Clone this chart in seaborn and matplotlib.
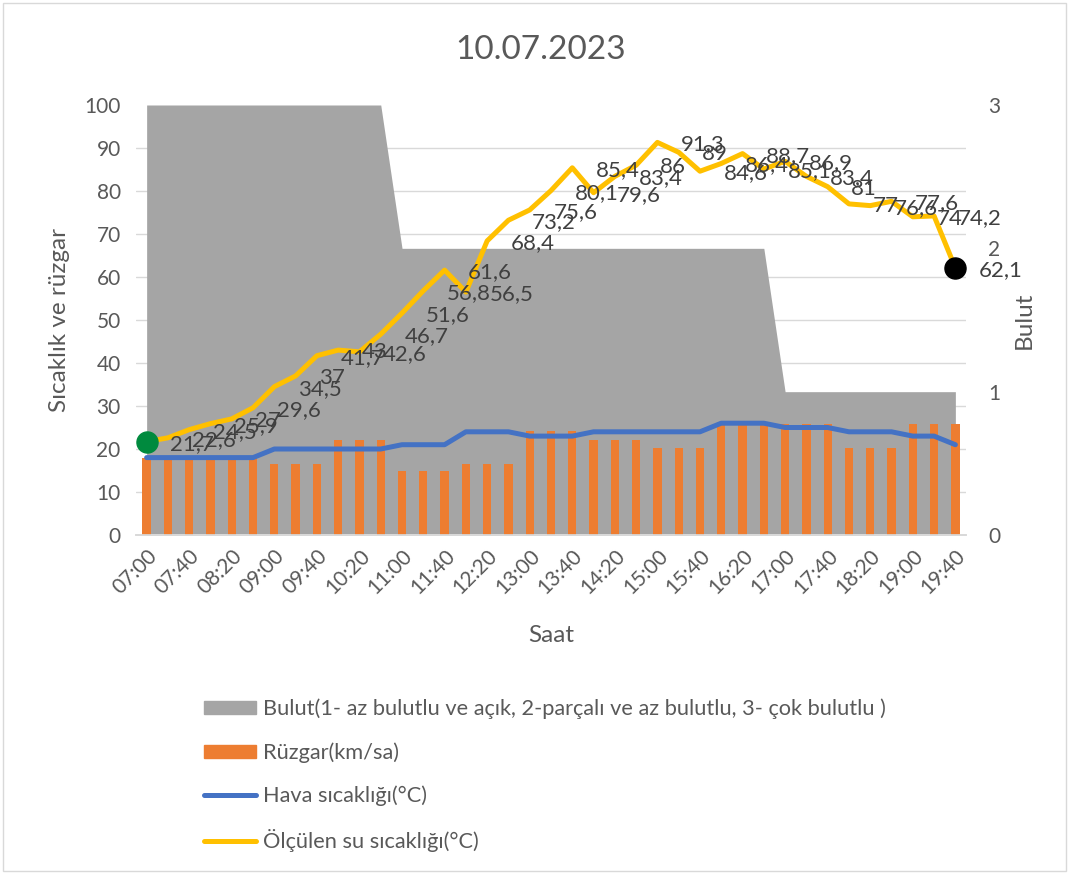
import numpy as np
import pandas as pd
import matplotlib.pyplot as plt
import seaborn as sns
from matplotlib.patches import Patch, Rectangle
from matplotlib.lines import Line2D
from matplotlib.ticker import MultipleLocator

sns.set_theme(style="white")
plt.rcParams["font.family"] = ["Lato", "DejaVu Sans"]

# data (20 min steps)
times = ["07:00", "07:20", "07:40", "08:00", "08:20", "08:40", "09:00", "09:20", "09:40", "10:00",
         "10:20", "10:40", "11:00", "11:20", "11:40", "12:00", "12:20", "12:40", "13:00", "13:20",
         "13:40", "14:00", "14:20", "14:40", "15:00", "15:20", "15:40", "16:00", "16:20", "16:40",
         "17:00", "17:20", "17:40", "18:00", "18:20", "18:40", "19:00", "19:20", "19:40"]
water = [21.7, 22.6, 24.5, 25.9, 27, 29.6, 34.5, 37, 41.7, 43, 42.6, 46.7, 51.6, 56.8, 61.6, 56.5,
         68.4, 73.2, 75.6, 80.1, 85.4, 79.6, 83.4, 86, 91.3, 89, 84.6, 86.4, 88.7, 85.1, 86.9, 83.4,
         81, 77, 76.6, 77.6, 74, 74.2, 62.1]
air = [18, 18, 18, 18, 18, 18, 20, 20, 20, 20, 20, 20, 21, 21, 21, 24, 24, 24, 23, 23, 23, 24, 24,
       24, 24, 24, 24, 26, 26, 26, 25, 25, 25, 24, 24, 24, 23, 23, 21]
wind = [18, 18, 18, 18, 18, 18, 16.6, 16.6, 16.6, 22, 22, 22, 14.8, 14.8, 14.8, 16.6, 16.6, 16.6,
        24.1, 24.1, 24.1, 22, 22, 22, 20.2, 20.2, 20.2, 25.9, 25.9, 25.9, 25.9, 25.9, 25.9,
        20.2, 20.2, 20.2, 25.9, 25.9, 25.9]
cloud = [3, 3, 3, 3, 3, 3, 3, 3, 3, 3, 3, 3, 2, 2, 2, 2, 2, 2, 2, 2, 2, 2, 2, 2, 2, 2, 2, 2, 2, 2,
         1, 1, 1, 1, 1, 1, 1, 1, 1]

df = pd.DataFrame({"pos": np.arange(len(times)), "time": times, "water": water,
                   "air": air, "wind": wind, "cloud": cloud})

GREY = "#A5A5A5"
ORANGE = "#ED7D31"
BLUE = "#4472C4"
YELLOW = "#FFC000"
TXT = "#595959"

fig = plt.figure(figsize=(10.69, 8.74), dpi=100)
ax = fig.add_axes([136 / 1069, 1 - 535 / 874, 830 / 1069, 430 / 874])
ax2 = ax.twinx()

# cloud area on the right axis, drawn behind everything
ax2.fill_between(df["pos"], 0, df["cloud"], color=GREY, lw=0, zorder=1)
ax2.set_ylim(0, 3)
ax2.set_yticks([0, 1, 2, 3])
ax2.yaxis.set_minor_locator(MultipleLocator(0.3))
ax2.set_axisbelow(True)
ax2.grid(which="minor", axis="y", color="#D9D9D9", lw=1)
ax2.grid(which="major", visible=False)
ax2.tick_params(axis="y", which="both", length=0, labelsize=15, labelcolor=TXT, pad=16)
ax2.set_ylabel("Bulut", fontsize=17.5, color=TXT, labelpad=10)

ax.set_zorder(ax2.get_zorder() + 1)
ax.patch.set_visible(False)

sns.barplot(data=df, x="pos", y="wind", color=ORANGE, saturation=1, width=0.39,
            linewidth=0, edgecolor=ORANGE, ax=ax, zorder=2)
sns.lineplot(data=df, x="pos", y="air", color=BLUE, lw=3.6, ax=ax, zorder=3)
sns.lineplot(data=df, x="pos", y="water", color=YELLOW, lw=3.6, ax=ax, zorder=4)

ax.scatter(df["pos"].iloc[[0]], df["water"].iloc[[0]], s=230, color="#008A3E", zorder=5)
ax.scatter(df["pos"].iloc[[-1]], df["water"].iloc[[-1]], s=230, color="black", zorder=5)

for p, v in zip(df["pos"], df["water"]):
    ax.annotate(f"{v:g}".replace(".", ","), (p, v), xytext=(17, -1.5), textcoords="offset points",
                ha="left", va="center", fontsize=16, color="#404040", zorder=6)

ax.set_xlim(-0.5, len(times) - 0.5)
ax.set_ylim(0, 100)
ax.set_yticks(range(0, 101, 10))
ax.set_xticks(df["pos"][::2])
ax.set_xticklabels(df["time"][::2], rotation=45, ha="right", rotation_mode="anchor")
ax.tick_params(axis="both", length=0, labelsize=15, labelcolor=TXT)
ax.tick_params(axis="y", pad=11)
ax.tick_params(axis="x", pad=8)
ax.grid(False)
ax.set_xlabel("Saat", fontsize=17.5, color=TXT, labelpad=19)
ax.set_ylabel("Sıcaklık ve rüzgar", fontsize=17.5, color=TXT, labelpad=10)

for a in (ax, ax2):
    for s in ["top", "left", "right"]:
        a.spines[s].set_visible(False)
    a.spines["bottom"].set_color("#D9D9D9")

fig.suptitle("10.07.2023", x=541 / 1069, y=1 - 50 / 874, va="center", fontsize=24, color=TXT)

handles = [Patch(color=GREY), Patch(color=ORANGE),
           Line2D([], [], color=BLUE, lw=3.6), Line2D([], [], color=YELLOW, lw=3.6)]
labels = ["Bulut(1- az bulutlu ve açık, 2-parçalı ve az bulutlu, 3- çok bulutlu )",
          "Rüzgar(km/sa)", "Hava sıcaklığı(°C)", "Ölçülen su sıcaklığı(°C)"]
leg = fig.legend(handles, labels, loc="upper left", bbox_to_anchor=(193 / 1069, 1 - 688 / 874),
                 frameon=False, fontsize=15.7, handlelength=2.4, handleheight=0.55,
                 handletextpad=0.3, labelspacing=1.05, borderpad=0)
for t in leg.get_texts():
    t.set_color(TXT)

fig.patches.append(Rectangle((0.003, 0.003), 0.994, 0.994, transform=fig.transFigure,
                             fill=False, edgecolor="#D9D9D9", lw=1))

fig.savefig("out.png", dpi=100)
